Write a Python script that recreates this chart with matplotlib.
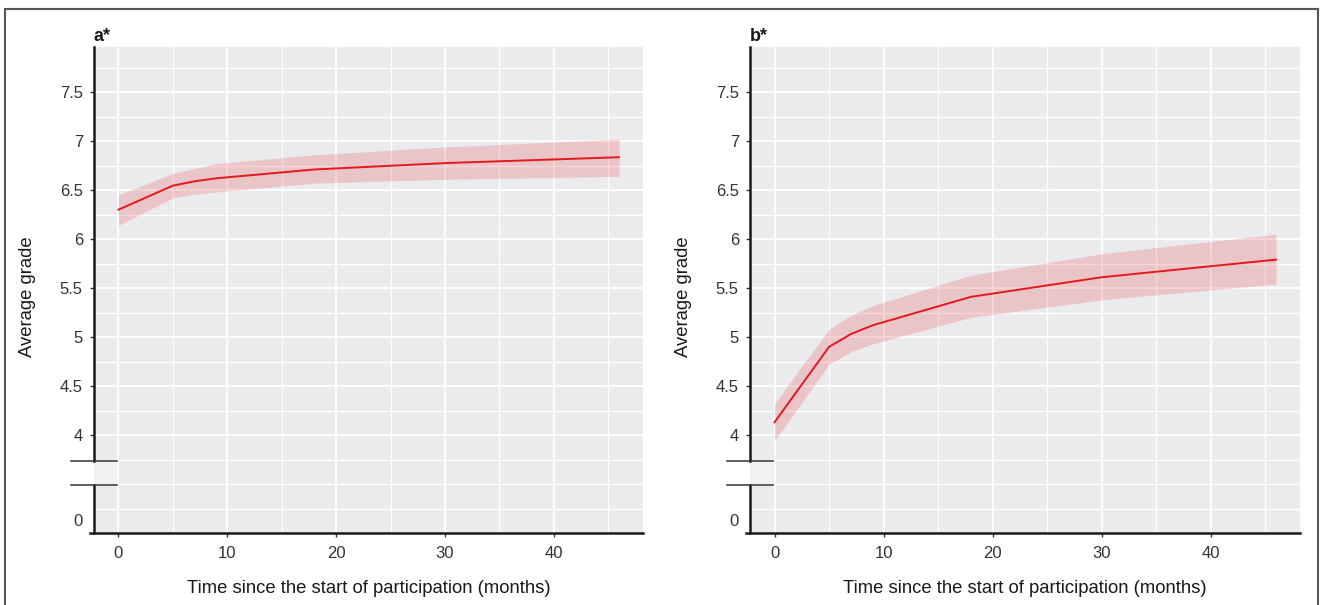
import matplotlib
matplotlib.use("Agg")
import matplotlib.pyplot as plt
from matplotlib.lines import Line2D
import matplotlib.transforms as mtrans
import numpy as np

plt.rcParams['font.family'] = ['Liberation Sans', 'DejaVu Sans']

# ---- data ----
months = [0, 5, 7, 9, 18, 30, 46]

grade_a = [6.30, 6.545, 6.59, 6.62, 6.71, 6.775, 6.835]
upper_a = [6.45, 6.67, 6.72, 6.77, 6.86, 6.94, 7.02]
lower_a = [6.14, 6.42, 6.46, 6.48, 6.57, 6.61, 6.64]

grade_b = [4.13, 4.90, 5.03, 5.12, 5.41, 5.61, 5.79]
upper_b = [4.32, 5.08, 5.22, 5.32, 5.63, 5.85, 6.05]
lower_b = [3.94, 4.72, 4.85, 4.93, 5.20, 5.38, 5.54]

panel_titles = ["a*", "b*"]
ytick_values = [4, 4.5, 5, 5.5, 6, 6.5, 7, 7.5]
ytick_labels = ["4", "4.5", "5", "5.5", "6", "6.5", "7", "7.5"]
xtick_values = [0, 10, 20, 30, 40]
xlabel = "Time since the start of participation (months)"
ylabel = "Average grade"

# broken axis: value 0 is drawn at this pseudo position below the break
ZERO_POS = 3.13
BREAK_LO, BREAK_HI = 3.485, 3.735

LINE_C = "#e3191f"
BG = "#ebebee"

fig = plt.figure(figsize=(13.2, 6.05), dpi=100)

# figure frame (top, left, right)
for (x0, y0, x1, y1) in [(5/1320, 1-9/605, 1318/1320, 1-9/605),
                         (5/1320, 1-9/605, 5/1320, 0),
                         (1318/1320, 1-9/605, 1318/1320, 0)]:
    fig.add_artist(Line2D([x0, x1], [y0, y1], color="#555555", lw=1.5,
                          transform=fig.transFigure))

axes_boxes = [
    [94/1320, 1-533/605, (643-94)/1320, (533-47)/605],
    [750/1320, 1-533/605, (1300-750)/1320, (533-47)/605],
]

series = [(grade_a, upper_a, lower_a), (grade_b, upper_b, lower_b)]

for box, (g, up, lo), title in zip(axes_boxes, series, panel_titles):
    ax = fig.add_axes(box)
    ax.set_facecolor(BG)
    ax.set_xlim(-2.25, 48.2)
    ax.set_ylim(3.0, 7.96)

    # grid
    for yv in np.arange(3.25, 7.8, 0.25):
        major = abs((yv * 2) - round(yv * 2)) < 1e-6 and yv >= 4
        ax.axhline(yv, color="white", lw=1.3 if major else 1.0, zorder=0.5)
    for xv in range(0, 50, 5):
        ax.axvline(xv, color="white", lw=1.3 if xv % 10 == 0 else 1.0, zorder=0.5)

    ax.fill_between(months, lo, up, color=LINE_C, alpha=0.18, lw=0, zorder=2)
    ax.plot(months, g, color=LINE_C, lw=1.4, zorder=3)

    # ticks
    ax.set_yticks([ZERO_POS] + ytick_values)
    ax.set_yticklabels(["0"] + ytick_labels)
    ax.set_xticks(xtick_values)
    ax.set_xticklabels([str(v) for v in xtick_values])
    ax.tick_params(axis="both", labelsize=12, labelcolor="#333333",
                   color="#333333", length=3, width=1.0, pad=5)
    ax.tick_params(axis="x", pad=6)
    ax.yaxis.get_major_ticks()[0].tick1line.set_visible(False)

    for s in ["top", "right", "left"]:
        ax.spines[s].set_visible(False)
    ax.spines["bottom"].set_color("#1a1a1a")
    ax.spines["bottom"].set_linewidth(1.8)
    ax.spines["bottom"].set_bounds(-2.6, 48.2)

    # broken left spine
    tr = mtrans.blended_transform_factory(ax.transAxes, ax.transData)
    ax.add_artist(Line2D([0, 0], [3.0, BREAK_LO], transform=tr, color="#1a1a1a",
                         lw=1.8, clip_on=False, zorder=5))
    ax.add_artist(Line2D([0, 0], [BREAK_HI, 7.96], transform=tr, color="#1a1a1a",
                         lw=1.8, clip_on=False, zorder=5))
    ax.fill_between([0, 0.041], [BREAK_LO] * 2, [BREAK_HI] * 2, transform=tr,
                    color="#f2f2f3", lw=0, zorder=1)
    for yb in (BREAK_LO, BREAK_HI):
        ax.add_artist(Line2D([-0.042, 0.042], [yb, yb], transform=tr,
                             color="#333333", lw=1.1, clip_on=False, zorder=5))

    ax.set_xlabel(xlabel, fontsize=13.3, color="#1a1a1a")
    ax.xaxis.set_label_coords(0.5, -0.097)
    ax.set_ylabel(ylabel, fontsize=13.3, color="#1a1a1a")
    ax.yaxis.set_label_coords(-0.106, 0.486)
    ax.text(0.0, 1.004, title, transform=ax.transAxes, fontsize=13,
            fontweight="bold", ha="left", va="bottom", color="#1a1a1a")

fig.savefig("out.png", dpi=100)
